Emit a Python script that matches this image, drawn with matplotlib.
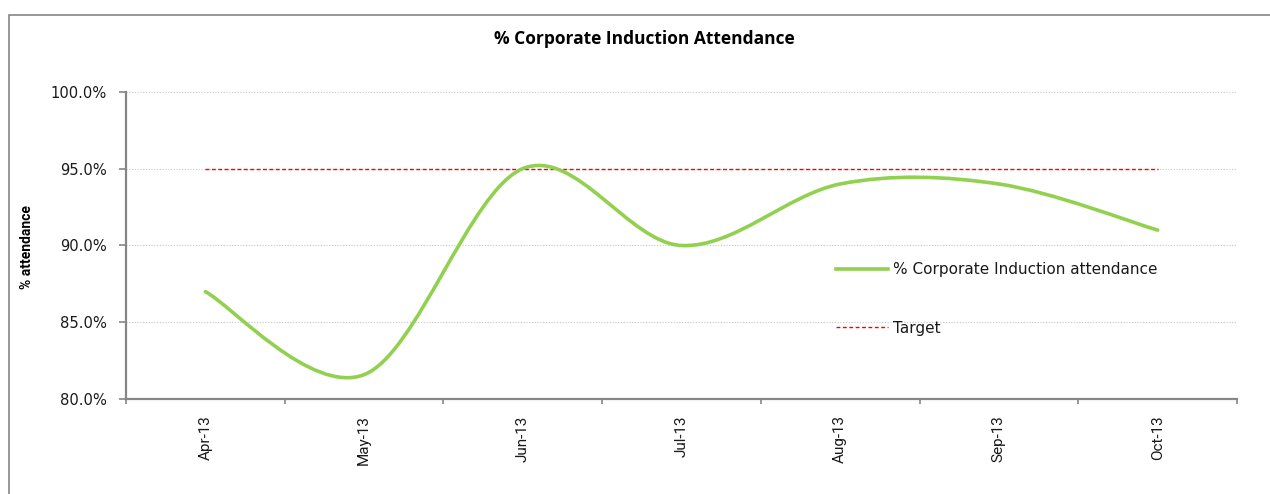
import numpy as np
import matplotlib
matplotlib.use('Agg')
import matplotlib.pyplot as plt
from matplotlib.path import Path
from matplotlib.patches import PathPatch, Rectangle
from matplotlib.lines import Line2D

################################################################################
# DATA
################################################################################
months = ['Apr-13', 'May-13', 'Jun-13', 'Jul-13', 'Aug-13', 'Sep-13', 'Oct-13']
attendance = [87.0, 81.6, 95.0, 90.0, 94.0, 94.0, 91.0]
target = [95.0, 95.0, 95.0, 95.0, 95.0, 95.0, 95.0]
yticks = [80, 85, 90, 95, 100]

GREEN = '#92D050'
GREY = '#868686'
RED = '#FF0000'


def smooth_path(xs, ys):
    # bezier through every point, control points from the neighbours (1/6)
    pts = np.column_stack([xs, ys]).astype(float)
    n = len(pts)
    verts = [pts[0]]
    codes = [Path.MOVETO]
    for i in range(n - 1):
        p0 = pts[max(i - 1, 0)]
        p1 = pts[i]
        p2 = pts[i + 1]
        p3 = pts[min(i + 2, n - 1)]
        verts += [p1 + (p2 - p0) / 6.0, p2 - (p3 - p1) / 6.0, p2]
        codes += [Path.CURVE4] * 3
    return Path(verts, codes)


################################################################################
# PLOT
################################################################################
W, H = 1270, 494
fig = plt.figure(figsize=(W / 100, H / 100), dpi=100)
ax = fig.add_axes([126 / W, 1 - 399.3 / H, (1237 - 126) / W, 307.6 / H])

x = np.arange(len(months))

ax.add_patch(PathPatch(smooth_path(x, attendance), facecolor='none',
                       edgecolor=GREEN, lw=2.6, capstyle='round', zorder=3))
ax.plot(x, target, color=RED, lw=1.0, linestyle=(0, (2.8, 1.8)), zorder=2)

ax.set_xlim(-0.5, len(months) - 0.5)
ax.set_ylim(80, 100)

# y axis
ax.set_yticks(yticks)
ax.set_yticklabels(['%.1f%%' % v for v in yticks], fontsize=10.6,
                   family='DejaVu Sans', color='#1a1a1a')
ax.tick_params(axis='y', length=5, width=1.2, color=GREY, pad=8.5)
ax.yaxis.grid(True, linestyle=(0, (1, 1.5)), color='#C8C8C8', lw=0.8)
ax.set_axisbelow(True)

# x axis: labels at the middle, tick marks between categories
ax.set_xticks(x)
ax.set_xticklabels(months, rotation=90, fontsize=11, family='Roboto',
                   color='#1a1a1a', va='top')
ax.tick_params(axis='x', length=0, pad=11.5)
ax.set_xticks(np.arange(len(months) + 1) - 0.5, minor=True)
ax.tick_params(axis='x', which='minor', length=3.5, width=1.2, color=GREY)

for s in ['top', 'right']:
    ax.spines[s].set_visible(False)
for s in ['left', 'bottom']:
    ax.spines[s].set_color(GREY)
    ax.spines[s].set_linewidth(1.6)

# legend
handles = [Line2D([], [], color=GREEN, lw=2.6),
           Line2D([], [], color=RED, lw=1.0, linestyle=(0, (2.8, 1.8)))]
leg = ax.legend(handles, ['% Corporate Induction attendance', 'Target'],
                loc='center left', bbox_to_anchor=(836 / W, 1 - 298.8 / H),
                bbox_transform=fig.transFigure, frameon=False, borderpad=0,
                borderaxespad=0, handlelength=3.4, handletextpad=0.32,
                labelspacing=2.85, prop={'family': 'DejaVu Sans', 'size': 11})
for t in leg.get_texts():
    t.set_color('#1a1a1a')

# titles
fig.text(644 / W, 1 - 39 / H, '% Corporate Induction Attendance', ha='center',
         va='center', fontsize=12.5, fontweight='bold', family='Open Sans')
fig.text(27 / W, 1 - 247 / H, '% attendance', ha='center', va='center',
         rotation=90, fontsize=10, fontweight='bold', family='Roboto')

# chart area border
fig.add_artist(Rectangle((9 / W, -0.2), 1.2, 1.2 - 15 / H, transform=fig.transFigure,
                         facecolor='none', edgecolor=GREY, lw=1.2))

plt.savefig('out.png', dpi=100)
